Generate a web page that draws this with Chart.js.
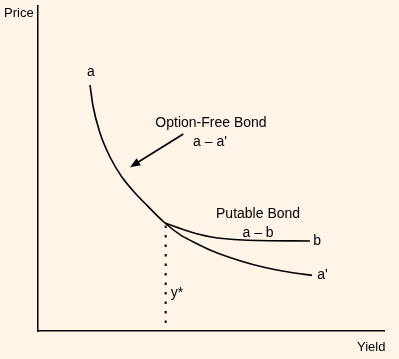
<!DOCTYPE html>
<html lang="en">
<head>
<meta charset="UTF-8">
<title>Putable Bond Price-Yield</title>
<script src="https://cdn.jsdelivr.net/npm/chart.js"></script>
<style>
    html, body { margin: 0; padding: 0; background: #fef4e8; }
    #wrap { width: 399px; height: 359px; }
</style>
</head>
<body>
<div id="wrap"><canvas id="myChart" width="399" height="359"></canvas></div>
<script>
    // curve points, in arbitrary yield / price units (0..100)
    const optionFreeYield = [15.03, 15.90, 17.92, 20.81, 23.99, 27.46, 31.50, 36.71, 41.04, 44.80, 49.71, 54.62, 64.16, 72.83, 79.19];
    const optionFreePrice = [75.69, 69.23, 60.92, 53.54, 47.78, 43.17, 38.65, 33.23, 29.63, 27.48, 24.95, 22.95, 19.91, 18.06, 17.11];
    const putableYield = [36.71, 43.93, 49.71, 59.25, 78.61];
    const putablePrice = [33.23, 30.55, 29.02, 28.00, 27.69];
    const yStar = 36.9;

    // text labels: [text, x, y]
    const labels = [
        ['a', 15.3, 79.7],
        ['Option-Free Bond', 50.0, 64.0],
        ['a \u2013 a\'', 49.7, 58.2],
        ['Putable Bond', 63.6, 36.0],
        ['a \u2013 b', 63.6, 30.0],
        ['b', 80.7, 27.7],
        ['a\'', 82.2, 17.2],
        ['y*', 40.2, 11.7]
    ];
    // arrow from option-free label to the curve
    const arrowFrom = [42.0, 60.6];
    const arrowTo = [26.6, 50.4];

    function toPoints(xs, ys) {
        return xs.map((x, i) => ({x: x, y: ys[i]}));
    }

    const textPlugin = {
        id: 'textPlugin',
        afterDatasetsDraw(chart) {
            const ctx = chart.ctx;
            const xs = chart.scales.x, ys = chart.scales.y;
            ctx.save();
            ctx.fillStyle = '#000';
            ctx.font = '14px "Liberation Sans", Arial, sans-serif';
            ctx.textAlign = 'center';
            ctx.textBaseline = 'middle';
            labels.forEach(l => {
                ctx.fillText(l[0], xs.getPixelForValue(l[1]), ys.getPixelForValue(l[2]));
            });
            // axis titles
            ctx.font = '13px "Liberation Sans", Arial, sans-serif';
            ctx.textAlign = 'left';
            ctx.fillText('Price', 4, 13);
            ctx.fillText('Yield', 357, 347);

            // arrow
            const x1 = xs.getPixelForValue(arrowFrom[0]), y1 = ys.getPixelForValue(arrowFrom[1]);
            const x2 = xs.getPixelForValue(arrowTo[0]), y2 = ys.getPixelForValue(arrowTo[1]);
            const ang = Math.atan2(y2 - y1, x2 - x1);
            const head = 11;
            ctx.strokeStyle = '#000';
            ctx.lineWidth = 1.6;
            ctx.beginPath();
            ctx.moveTo(x1, y1);
            ctx.lineTo(x2 - Math.cos(ang) * head * 0.8, y2 - Math.sin(ang) * head * 0.8);
            ctx.stroke();
            ctx.beginPath();
            ctx.moveTo(x2, y2);
            ctx.lineTo(x2 - head * Math.cos(ang - 0.38), y2 - head * Math.sin(ang - 0.38));
            ctx.lineTo(x2 - head * Math.cos(ang + 0.38), y2 - head * Math.sin(ang + 0.38));
            ctx.closePath();
            ctx.fill();
            ctx.restore();
        }
    };

    const ctx = document.getElementById('myChart').getContext('2d');
    new Chart(ctx, {
        type: 'scatter',
        data: {
            datasets: [{
                label: 'Option-Free Bond',
                data: toPoints(optionFreeYield, optionFreePrice),
                showLine: true,
                borderColor: '#000',
                borderWidth: 1.6,
                pointRadius: 0,
                cubicInterpolationMode: 'monotone'
            }, {
                label: 'Putable Bond',
                data: toPoints(putableYield, putablePrice),
                showLine: true,
                borderColor: '#000',
                borderWidth: 1.6,
                pointRadius: 0,
                cubicInterpolationMode: 'monotone'
            }, {
                label: 'y*',
                data: [{x: yStar, y: 32.5}, {x: yStar, y: 0}],
                showLine: true,
                borderColor: '#000',
                borderWidth: 2,
                borderDash: [2.5, 7],
                pointRadius: 0
            }]
        },
        options: {
            responsive: false,
            animation: false,
            layout: { padding: { left: 38, top: 6, right: 15, bottom: 28 } },
            plugins: {
                legend: { display: false },
                tooltip: { enabled: false }
            },
            scales: {
                x: {
                    min: 0, max: 100,
                    grid: { display: false, drawTicks: false },
                    border: { display: true, color: '#000', width: 1.5 },
                    ticks: { display: false }
                },
                y: {
                    min: 0, max: 100,
                    grid: { display: false, drawTicks: false },
                    border: { display: true, color: '#000', width: 1.5 },
                    ticks: { display: false }
                }
            }
        },
        plugins: [textPlugin]
    });
</script>
</body>
</html>
